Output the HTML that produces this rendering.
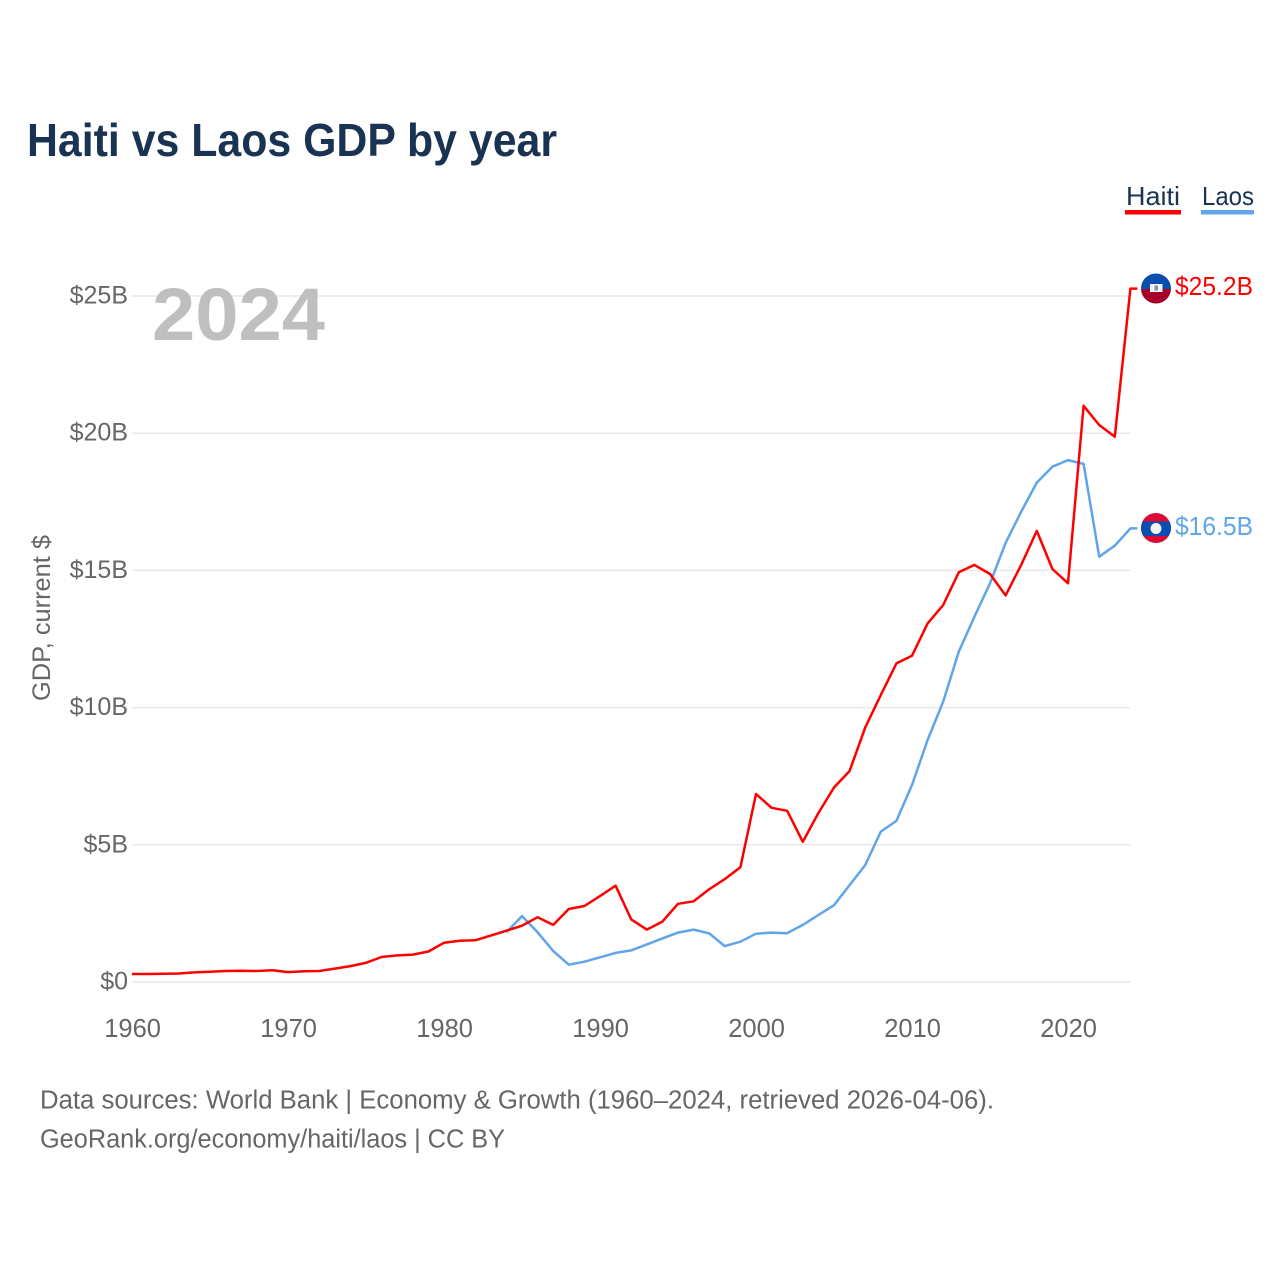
<!DOCTYPE html>
<html lang="en">
<head>
<meta charset="utf-8">
<title>Haiti vs Laos GDP by year</title>
<style>
html,body{margin:0;padding:0;background:#fff}
svg{display:block}
text{font-family:"Liberation Sans",sans-serif}
</style>
</head>
<body>
<svg id="chart" width="1280" height="1280" viewBox="0 0 1280 1280" xmlns="http://www.w3.org/2000/svg">
  <rect width="1280" height="1280" fill="#fff"/>
  <text x="27" y="156" font-size="46" font-weight="bold" fill="#1a3353" textLength="530" lengthAdjust="spacingAndGlyphs">Haiti vs Laos GDP by year</text>

  <g>
    <g>
      <text x="1126" y="205" font-size="26" fill="#1a3353" textLength="54" lengthAdjust="spacingAndGlyphs">Haiti</text>
      <rect x="1125" y="210" width="56" height="4.5" fill="#ff0000"/>
    </g>
    <g>
      <text x="1202" y="205" font-size="26" fill="#1a3353" textLength="52" lengthAdjust="spacingAndGlyphs">Laos</text>
      <rect x="1201" y="210" width="53" height="4.5" fill="#60a5ea"/>
    </g>
  </g>

  <g id="grid"></g>
  <text x="152" y="340" font-size="74" font-weight="bold" fill="#bfbfbf" textLength="173" lengthAdjust="spacingAndGlyphs">2024</text>
  <text transform="translate(50,618) rotate(-90)" text-anchor="middle" font-size="25" fill="#666" textLength="166" lengthAdjust="spacingAndGlyphs">GDP, current $</text>

  <g id="yticks"></g>
  <g id="xticks"></g>
  <g id="series"></g>

  <g>
    <clipPath id="clip-haiti"><circle cx="1156" cy="288.5" r="15"/></clipPath>
    <g clip-path="url(#clip-haiti)">
      <rect x="1141" y="273" width="30" height="16" fill="#0a4fb0"/>
      <rect x="1141" y="289" width="30" height="16" fill="#a5002a"/>
      <rect x="1150" y="284" width="12.5" height="8" fill="#f4f4f4"/>
      <rect x="1154.5" y="285.5" width="3.5" height="5" fill="#7f93ad"/>
    </g>
    <text x="1175" y="295" font-size="25.5" fill="#ff0000" textLength="78" lengthAdjust="spacingAndGlyphs">$25.2B</text>
  </g>
  <g>
    <clipPath id="clip-laos"><circle cx="1156" cy="528" r="15"/></clipPath>
    <g clip-path="url(#clip-laos)">
      <rect x="1141" y="513" width="30" height="31" fill="#dc0b36"/>
      <rect x="1141" y="521.5" width="30" height="14.5" fill="#0a4fb0"/>
      <circle cx="1156" cy="528.5" r="5.5" fill="#f2f2f2"/>
    </g>
    <text x="1175" y="535" font-size="25.5" fill="#60a5ea" textLength="78" lengthAdjust="spacingAndGlyphs">$16.5B</text>
  </g>

  <text x="40" y="1108.5" font-size="25.5" fill="#666" textLength="954" lengthAdjust="spacingAndGlyphs">Data sources: World Bank | Economy &amp; Growth (1960–2024, retrieved 2026-04-06).</text>
  <text x="40" y="1147.5" font-size="25.5" fill="#666" textLength="465" lengthAdjust="spacingAndGlyphs">GeoRank.org/economy/haiti/laos | CC BY</text>
</svg>
<script>
const startYear = 1960;
const haitiValues = [0.29,0.29,0.30,0.31,0.35,0.37,0.40,0.41,0.40,0.43,0.36,0.39,0.40,0.49,0.58,0.70,0.91,0.97,1.00,1.11,1.43,1.50,1.52,1.69,1.87,2.05,2.36,2.08,2.66,2.77,3.13,3.51,2.28,1.91,2.20,2.85,2.94,3.38,3.75,4.18,6.85,6.35,6.24,5.11,6.16,7.09,7.69,9.27,10.46,11.61,11.89,13.07,13.74,14.93,15.20,14.87,14.09,15.20,16.44,15.05,14.53,21.00,20.30,19.87,25.27];
const laosStartYear = 1984;
const laosValues = [1.81,2.40,1.81,1.13,0.63,0.74,0.90,1.06,1.15,1.37,1.59,1.80,1.91,1.77,1.31,1.47,1.76,1.80,1.78,2.08,2.44,2.80,3.53,4.26,5.48,5.87,7.18,8.82,10.22,12.04,13.31,14.53,16.00,17.14,18.20,18.78,19.02,18.88,15.50,15.90,16.53];
const yTickValues = [0,5,10,15,20,25];
const yTickLabels = ["$0","$5B","$10B","$15B","$20B","$25B"];
const xTickValues = [1960,1970,1980,1990,2000,2010,2020];

const NS = "http://www.w3.org/2000/svg";
function xScale(year){ return 132 + (year - 1960) * 15.6; }
function yScale(v){ return 982 - v * 27.44; }

const grid = document.getElementById("grid");
const yticks = document.getElementById("yticks");
const xticks = document.getElementById("xticks");
const series = document.getElementById("series");

yTickValues.forEach(function(v, i){
  const ln = document.createElementNS(NS, "line");
  
  
  ln.setAttribute("x1", xScale(1960));
  ln.setAttribute("x2", xScale(2024));
  ln.setAttribute("y1", yScale(v));
  ln.setAttribute("y2", yScale(v));
  ln.setAttribute("stroke", "#e9e9e9");
  ln.setAttribute("stroke-width", "1.5");
  grid.appendChild(ln);

  const t = document.createElementNS(NS, "text");
  
  
  t.setAttribute("x", 128);
  t.setAttribute("y", yScale(v) + 7.5);
  t.setAttribute("text-anchor", "end");
  t.setAttribute("font-size", "25");
  t.setAttribute("fill", "#666");
  t.textContent = yTickLabels[i];
  yticks.appendChild(t);
});

xTickValues.forEach(function(y){
  const t = document.createElementNS(NS, "text");
  
  
  t.setAttribute("x", xScale(y) + 0.6);
  t.setAttribute("y", 1037);
  t.setAttribute("text-anchor", "middle");
  t.setAttribute("font-size", "25.5");
  t.setAttribute("fill", "#666");
  t.textContent = String(y);
  xticks.appendChild(t);
});

function pathFor(values, first){
  const pts = values.map(function(v, i){
    return xScale(first + i).toFixed(1) + "," + yScale(v).toFixed(1);
  });
  const last = values[values.length - 1];
  pts.push((xScale(first + values.length - 1) + 7).toFixed(1) + "," + yScale(last).toFixed(1));
  return "M" + pts.join("L");
}

const laosLine = document.createElementNS(NS, "path");


laosLine.setAttribute("d", pathFor(laosValues, laosStartYear));
laosLine.setAttribute("fill", "none");
laosLine.setAttribute("stroke", "#60a5ea");
laosLine.setAttribute("stroke-width", "2.5");
laosLine.setAttribute("stroke-linejoin", "round");
series.appendChild(laosLine);

const haitiLine = document.createElementNS(NS, "path");


haitiLine.setAttribute("d", pathFor(haitiValues, startYear));
haitiLine.setAttribute("fill", "none");
haitiLine.setAttribute("stroke", "#ff0000");
haitiLine.setAttribute("stroke-width", "2.5");
haitiLine.setAttribute("stroke-linejoin", "round");
series.appendChild(haitiLine);
</script>
</body>
</html>
